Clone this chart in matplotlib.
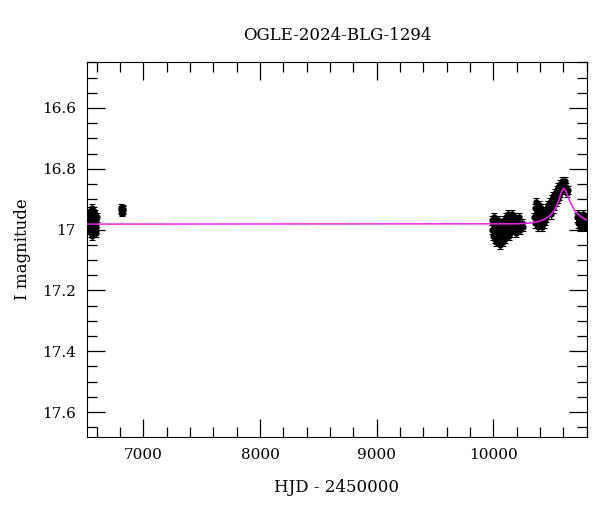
import numpy as np
import matplotlib
matplotlib.use('agg')
import matplotlib.pyplot as plt
from matplotlib.ticker import MultipleLocator, FormatStrFormatter

title = 'OGLE-2024-BLG-1294'

# photometry, one list pair per observing season (HJD - 2450000, I mag)
s1_t = [6524, 6528, 6532, 6536, 6540, 6543, 6546, 6549, 6552, 6555, 6558, 6561, 6564,
        6567, 6570, 6573, 6576, 6579, 6582, 6585, 6588, 6591, 6594, 6597, 6600]
s1_m = [16.95, 16.98, 16.96, 17.00, 16.94, 16.97, 16.99, 16.95, 17.01, 16.97, 16.93, 16.98, 17.02,
        16.96, 16.99, 16.94, 16.97, 17.00, 16.96, 16.98, 16.95, 17.01, 16.97, 16.99, 16.96]

s2_t = [6808, 6812, 6816, 6820, 6824, 6828]
s2_m = [16.935, 16.930, 16.940, 16.938, 16.932, 16.936]

s3_t = [9988, 9992, 9995, 9999, 10003, 10006, 10010, 10014, 10017, 10021, 10025, 10029, 10032,
        10036, 10040, 10044, 10048, 10052, 10056, 10060, 10064, 10068, 10072, 10076, 10080,
        10084, 10088, 10092, 10096, 10100, 10104, 10108, 10112, 10116, 10120, 10125, 10130,
        10135, 10140, 10145, 10150, 10155, 10160, 10166, 10172, 10178, 10184, 10190, 10197,
        10204, 10212, 10220, 10230, 10242, 10252]
s3_m = [16.97, 17.00, 16.98, 17.02, 16.96, 16.99, 17.03, 17.01, 16.98, 17.00, 17.04, 16.99, 17.02,
        16.97, 17.01, 17.03, 17.00, 16.98, 17.02, 17.05, 17.01, 16.99, 17.03, 17.00, 17.04,
        16.98, 17.02, 16.97, 17.00, 17.03, 16.99, 17.01, 16.96, 17.00, 16.98, 16.95, 17.02,
        16.99, 16.97, 17.01, 16.96, 16.98, 16.95, 17.00, 16.97, 16.99, 16.96, 16.98, 17.01,
        16.97, 16.99, 16.96, 17.00, 16.98, 16.99]

s4_t = [10352, 10356, 10360, 10364, 10368, 10372, 10376, 10380, 10384, 10388, 10392, 10396,
        10400, 10404, 10408, 10412, 10418, 10424, 10430, 10436, 10442, 10448, 10454, 10460,
        10466, 10472, 10478, 10484, 10490, 10496, 10502, 10508, 10514, 10520, 10526, 10532,
        10538, 10544, 10550, 10556, 10562, 10568, 10574, 10580, 10586, 10592, 10598, 10604,
        10610, 10616, 10622, 10630, 10638]
s4_m = [16.96, 16.93, 16.98, 16.95, 16.91, 16.97, 16.94, 16.99, 16.95, 16.92, 16.97, 16.94,
        16.98, 16.95, 16.93, 16.97, 16.99, 16.96, 16.98, 16.95, 16.97, 16.94, 16.96, 16.93,
        16.95, 16.92, 16.94, 16.91, 16.93, 16.95, 16.90, 16.93, 16.89, 16.92, 16.90, 16.88,
        16.91, 16.87, 16.90, 16.86, 16.89, 16.85, 16.88, 16.86, 16.84, 16.87, 16.85, 16.86,
        16.84, 16.87, 16.86, 16.88, 16.87]

s5_t = [10716, 10722, 10728, 10734, 10740, 10746, 10752, 10758, 10764, 10770, 10776, 10782,
        10788, 10794, 10800]
s5_m = [16.96, 16.98, 16.95, 16.97, 16.99, 16.96, 16.98, 16.97, 16.95, 16.98, 16.96, 16.99,
        16.97, 16.98, 16.96]

mag_err = 0.014

# model curve
model_t = [6500, 10200, 10300, 10380, 10440, 10490, 10530, 10560, 10580, 10600, 10620, 10650,
           10700, 10750, 10810]
model_m = [16.982, 16.981, 16.979, 16.974, 16.966, 16.952, 16.932, 16.905, 16.878, 16.864,
           16.872, 16.903, 16.940, 16.958, 16.970]

t = np.concatenate([s1_t, s2_t, s3_t, s4_t, s5_t])
m = np.concatenate([s1_m, s2_m, s3_m, s4_m, s5_m])

plt.rcParams['font.family'] = ['DejaVu Serif']
fig = plt.figure(figsize=(6, 5.12), dpi=100)
ax = fig.add_axes([0.145, 0.1465, 0.8333, 0.7324])

ax.errorbar(t, m, yerr=mag_err, fmt='o', ms=3.5, color='black', ecolor='black',
            elinewidth=0.8, capsize=2.5, capthick=0.8, zorder=2)
ax.plot(model_t, model_m, color='#ee22ee', lw=1.1, zorder=3)

ax.set_xlim(6517, 10802)
ax.set_ylim(17.682, 16.449)
ax.xaxis.set_major_locator(MultipleLocator(1000))
ax.xaxis.set_minor_locator(MultipleLocator(200))
ax.yaxis.set_major_locator(MultipleLocator(0.2))
ax.yaxis.set_minor_locator(MultipleLocator(0.05))
ax.yaxis.set_major_formatter(FormatStrFormatter('%g'))
ax.tick_params(which='both', direction='in', top=True, right=True, labelsize=11, width=0.9)
ax.tick_params(which='major', length=13, pad=8)
ax.tick_params(which='minor', length=7)

ax.set_xlabel('HJD - 2450000', fontsize=12, labelpad=12)
ax.set_ylabel('I magnitude', fontsize=12, labelpad=8)
ax.set_title(title, fontsize=12, pad=16)

fig.savefig('out.png')
